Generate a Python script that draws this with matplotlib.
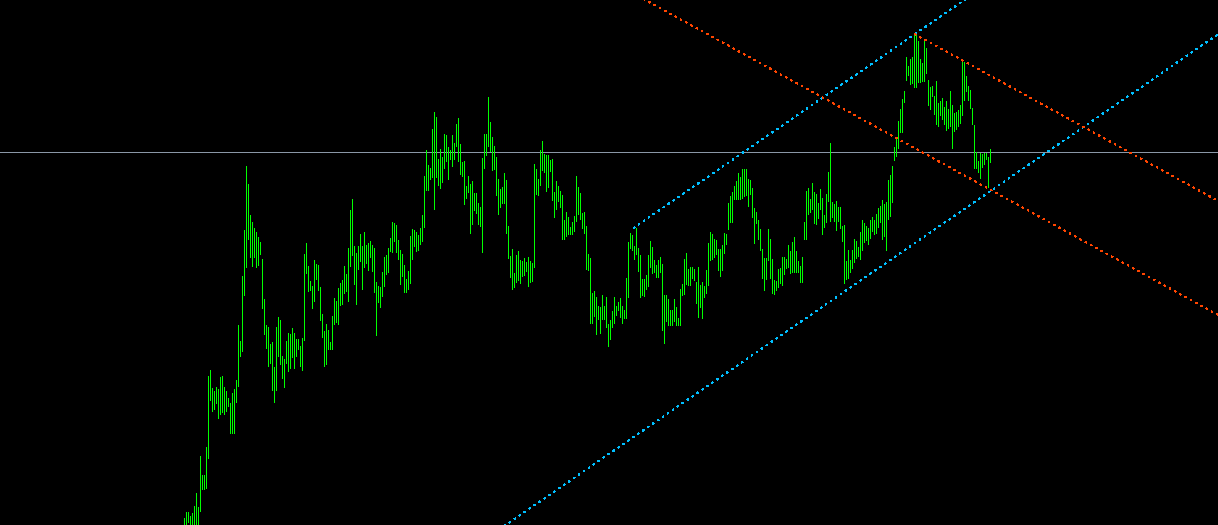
import matplotlib
matplotlib.use("Agg")
import matplotlib.pyplot as plt
import numpy as np

# bar highs / lows in points, one bar per entry
high_pts = [
    7, 13, 13, 9, 12, 19, 32, 18, 69, 50,
    50, 78, 149, 155, 137, 134, 138, 136, 148, 149,
    138, 134, 127, 122, 132, 136, 145, 200, 184, 249,
    295, 359, 341, 310, 303, 297, 293, 288, 283, 266,
    226, 200, 198, 181, 183, 158, 198, 208, 205, 169,
    166, 184, 192, 191, 197, 192, 186, 186, 179, 187,
    271, 282, 259, 244, 239, 265, 261, 260, 238, 211,
    194, 201, 195, 183, 209, 227, 224, 237, 242, 245,
    259, 251, 277, 315, 326, 279, 272, 279, 291, 279,
    293, 280, 282, 284, 280, 277, 243, 239, 238, 253,
    268, 270, 277, 287, 303, 302, 300, 285, 275, 271,
    260, 246, 254, 289, 296, 295, 293, 290, 297, 310,
    349, 375, 360, 357, 396, 413, 408, 366, 376, 368,
    391, 390, 378, 375, 390, 382, 401, 407, 381, 363,
    364, 339, 349, 341, 344, 332, 332, 322, 318, 367,
    391, 391, 428, 403, 388, 379, 368, 346, 336, 338,
    352, 345, 299, 269, 276, 252, 270, 274, 265, 264,
    267, 263, 268, 264, 262, 361, 356, 346, 375, 384,
    371, 370, 370, 365, 366, 333, 344, 339, 334, 330,
    305, 313, 308, 298, 303, 309, 349, 338, 332, 312,
    313, 299, 271, 267, 232, 234, 228, 219, 218, 230,
    219, 228, 201, 205, 214, 228, 219, 223, 227, 219,
    215, 247, 283, 292, 290, 279, 297, 277, 270, 246,
    246, 250, 270, 284, 278, 265, 260, 265, 268, 261,
    230, 230, 226, 215, 215, 226, 218, 207, 236, 241,
    266, 272, 256, 258, 258, 256, 243, 258, 240, 243,
    239, 255, 282, 293, 291, 286, 285, 276, 276, 280,
    292, 291, 322, 329, 333, 339, 344, 352, 348, 356,
    356, 356, 346, 345, 337, 317, 313, 305, 296, 276,
    267, 267, 296, 286, 266, 245, 244, 256, 257, 268,
    268, 266, 280, 274, 283, 288, 274, 264, 259, 268,
    303, 334, 337, 326, 342, 333, 331, 322, 336, 327,
    310, 331, 353, 382, 323, 321, 324, 318, 318, 299,
    300, 264, 275, 265, 275, 286, 284, 278, 293, 305,
    302, 299, 297, 305, 308, 305, 311, 317, 319, 325,
    321, 323, 345, 350, 359, 378, 386, 404, 416, 426,
    434, 468, 459, 466, 468, 490, 490, 484, 466, 462,
    484, 477, 445, 438, 439, 429, 444, 422, 424, 427,
    418, 424, 416, 434, 420, 412, 413, 415, 420, 465,
    463, 449, 439, 435, 417, 400, 373, 364, 372, 371,
    372, 372, 368, 376,
]
low_pts = [
    -3, -3, 2, -3, -3, -3, -3, -3, 13, 35,
    35, 36, 66, 124, 113, 115, 121, 106, 110, 112,
    110, 113, 118, 91, 91, 91, 122, 138, 168, 173,
    229, 257, 285, 267, 258, 267, 257, 259, 270, 216,
    190, 176, 158, 161, 134, 122, 134, 168, 160, 146,
    137, 161, 153, 156, 167, 156, 168, 175, 158, 154,
    184, 251, 233, 234, 216, 223, 245, 234, 204, 187,
    158, 160, 175, 175, 175, 200, 202, 200, 219, 220,
    231, 233, 223, 258, 269, 240, 220, 255, 263, 235,
    257, 261, 254, 267, 253, 232, 189, 222, 217, 228,
    238, 250, 252, 273, 272, 283, 272, 265, 240, 248,
    232, 232, 235, 241, 265, 278, 273, 274, 280, 283,
    297, 334, 334, 345, 347, 315, 347, 339, 336, 342,
    356, 363, 345, 365, 358, 365, 378, 363, 350, 348,
    320, 326, 332, 291, 300, 314, 311, 300, 298, 272,
    356, 369, 378, 373, 354, 355, 329, 310, 317, 321,
    321, 291, 266, 247, 235, 237, 242, 244, 241, 248,
    249, 253, 238, 242, 243, 257, 330, 329, 339, 354,
    352, 333, 337, 353, 324, 307, 315, 323, 317, 285,
    285, 288, 290, 290, 290, 293, 303, 310, 305, 296,
    291, 255, 254, 201, 201, 208, 190, 205, 191, 205,
    205, 197, 178, 185, 197, 201, 209, 214, 207, 201,
    206, 206, 227, 276, 274, 265, 270, 253, 227, 229,
    228, 235, 238, 257, 251, 252, 247, 247, 252, 194,
    181, 203, 199, 199, 199, 203, 199, 199, 199, 229,
    230, 240, 239, 239, 246, 244, 221, 207, 217, 206,
    227, 231, 239, 264, 265, 267, 270, 254, 248, 254,
    271, 280, 295, 302, 302, 325, 325, 325, 325, 326,
    328, 329, 318, 330, 307, 281, 301, 285, 274, 246,
    234, 245, 264, 246, 231, 230, 234, 237, 241, 239,
    250, 256, 257, 251, 252, 252, 252, 252, 242, 242,
    285, 285, 310, 312, 315, 301, 300, 306, 315, 290,
    297, 302, 323, 303, 307, 303, 294, 303, 296, 283,
    241, 245, 246, 252, 256, 262, 266, 268, 265, 274,
    282, 284, 280, 286, 293, 290, 291, 297, 302, 285,
    288, 274, 305, 308, 322, 364, 368, 376, 392, 392,
    422, 444, 449, 440, 441, 437, 437, 442, 442, 443,
    443, 451, 419, 415, 428, 410, 400, 398, 409, 405,
    400, 394, 396, 398, 376, 393, 395, 398, 401, 409,
    424, 433, 424, 416, 400, 356, 356, 352, 346, 357,
    360, 365, 337, 362,
]

# horizontal level
hline_price = 373

# rising channel (blue): anchor of upper line, slope per bar, width
blue_start_bar = 224.5
blue_start_price = 297
blue_slope = 1.378
blue_width = 209

# falling channel (red)
red_start_bar = 365
red_start_price = 491
red_slope = -1.1
red_width = 114

BAR_COLOR = "#00ff00"
BLUE = "#00bfff"
RED = "#ff4500"
GREY = "#8a97a6"

fig = plt.figure(figsize=(12.18, 5.25), dpi=100, facecolor="black")
ax = fig.add_axes([0, 0, 1, 1], facecolor="black")

x0, x1 = -92.25, 516.75
ax.set_xlim(x0, x1)
ax.set_ylim(0, 525)
ax.axis("off")

bars = np.arange(len(high_pts))
highs = np.array(high_pts)
lows = np.array(low_pts)
# each bar is 1 px wide (half a bar step)
ax.bar(bars, highs - lows, bottom=lows, width=0.5, color=BAR_COLOR,
       linewidth=0, antialiased=False, zorder=3)

ax.axhline(hline_price, color=GREY, linewidth=0.72, antialiased=False, zorder=2)

dot = (0, (2.0, 4.5))


def channel(start_bar, start_price, slope, width, color):
    # upper line is a ray from its anchor, the parallel one runs across the whole chart
    xs = np.array([start_bar, x1])
    ax.plot(xs, start_price + slope * (xs - start_bar), color=color, linewidth=0.72,
            linestyle=dot, antialiased=False, zorder=4)
    xs = np.array([x0, x1])
    ax.plot(xs, start_price - width + slope * (xs - start_bar), color=color, linewidth=0.72,
            linestyle=dot, antialiased=False, zorder=4)


channel(blue_start_bar, blue_start_price, blue_slope, blue_width, BLUE)
channel(red_start_bar, red_start_price, red_slope, red_width, RED)

fig.savefig("out.png", dpi=100, facecolor="black")
